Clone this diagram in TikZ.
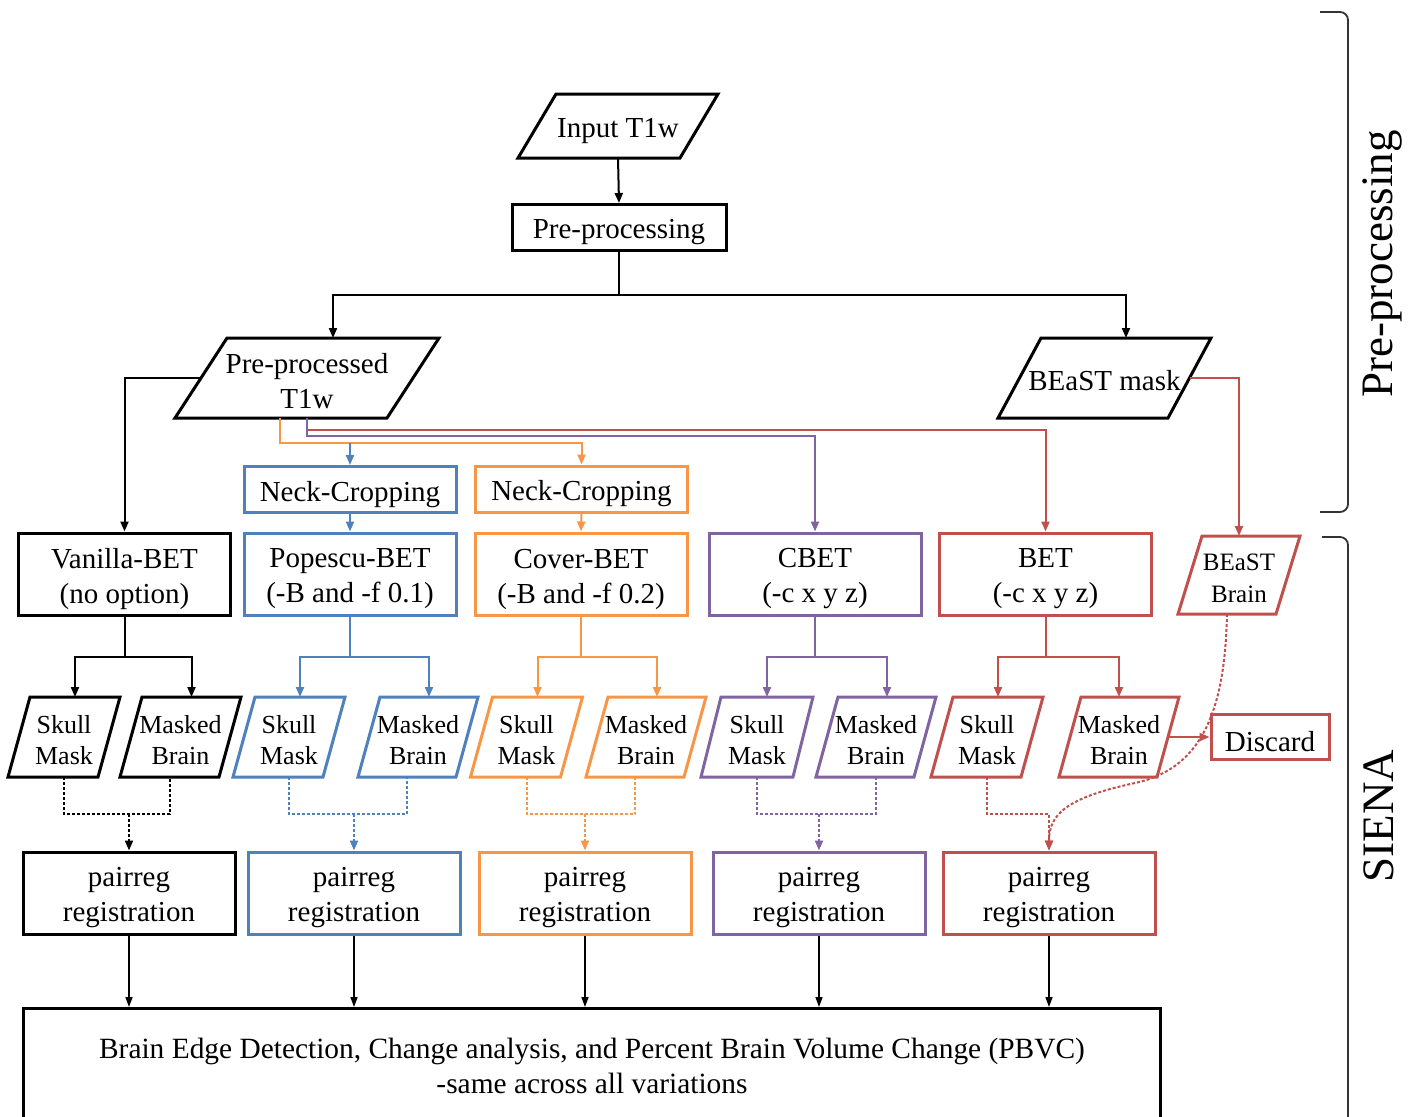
\documentclass[tikz,border=0pt]{standalone}
\usepackage{fontspec}
\setmainfont{Liberation Serif}
\usetikzlibrary{arrows.meta,calc}
\definecolor{cblue}{RGB}{79,129,189}
\definecolor{corange}{RGB}{247,150,70}
\definecolor{cpurple}{RGB}{128,100,162}
\definecolor{cred}{RGB}{192,80,77}
\tikzset{
 txt/.style={font=\fontsize{14.5}{17.5}\selectfont, align=center, inner sep=0pt},
 small/.style={font=\fontsize{13}{15.5}\selectfont},
 box/.style={draw=#1, line width=1.5pt, minimum width=106pt, minimum height=41pt, inner sep=0pt},
 conn/.style={draw=#1, line width=1pt, -{Triangle[length=5pt,width=4pt]}},
 plain/.style={draw=#1, line width=1pt},
 dotline/.style={draw=#1, line width=1pt, dash pattern=on 1.5pt off 1pt},
 dotarr/.style={dotline=#1, -{Triangle[length=5pt,width=4pt]}},
 thinarr/.style={draw=black, line width=0.75pt, -{Triangle[length=5pt,width=3.5pt]}},
}
% name, cx, cy, half width, half height, slant, colour, node options, text
\newcommand\pgram[9]{%
 \draw[#7, line width=1.5pt, line join=miter] ({#2-#4+#6},{#3-#5}) -- ({#2+#4+#6},{#3-#5}) -- ({#2+#4-#6},{#3+#5}) -- ({#2-#4-#6},{#3+#5}) -- cycle;
 \node[txt,#8] (#1) at (#2,{#3+3}) {#9};
 \coordinate (#1-t) at ({#2+#6},{#3-#5});
 \coordinate (#1-n) at (#2,{#3-#5});
 \coordinate (#1-b) at ({#2-#6},{#3+#5});
 \coordinate (#1-c) at (#2,{#3+#5});
 \coordinate (#1-l) at ({#2-#4},#3);
 \coordinate (#1-r) at ({#2+#4},#3);
}
% name, x, y, colour, extra options, text
\newcommand\bx[6]{%
 \node[box=#4,#5] (#1) at (#2,#3) {};
 \node[txt] (#1-txt) at ($(#1)+(0,5)$) {#6};
}
\begin{document}
\begin{tikzpicture}[x=0.5pt,y=-0.5pt]
\useasboundingbox (0,0) rectangle (1419,1116);
\clip (0,0) rectangle (1419,1116);
% top
\pgram{inp}{618}{126}{81}{32}{19}{black}{yshift=-1pt}{Input T1w}
\bx{pre}{619}{227.5}{black}{minimum width=107pt, minimum height=23pt}{Pre-processing}
\draw[conn=black] (inp-c) -- (pre.north);
\pgram{ppt}{307}{378}{106}{40}{26}{black}{}{Pre-processed\\T1w}
\pgram{bm}{1104.5}{378}{85}{40}{21.5}{black}{}{BEaST mask}
\draw[plain=black] (pre.south) -- ++(0,43) coordinate (pj);
\draw[conn=black] (pj) -| (ppt-t);
\draw[conn=black] (pj) -| (bm-t);
% second row boxes
\bx{bnc}{350}{489.5}{cblue}{minimum height=23pt}{Neck-Cropping}
\bx{onc}{581.5}{489}{corange}{minimum height=23pt}{Neck-Cropping}
\bx{vbet}{124.5}{574}{black}{}{Vanilla-BET\\(no option)}
\bx{pbet}{350}{574}{cblue}{}{Popescu-BET\\(-B and -f 0.1)}
\bx{obet}{581}{574}{corange}{}{Cover-BET\\(-B and -f 0.2)}
\bx{cbet}{815}{574}{cpurple}{}{CBET\\(-c x y z)}
\bx{bet}{1045.5}{574}{cred}{}{BET\\(-c x y z)}
\pgram{bb}{1239}{575}{49}{39}{12}{cred}{font=\fontsize{12.5}{16}\selectfont}{BEaST\\Brain}
% connectors from pre-processed
\draw[conn=black] (ppt-l) -| (vbet.north);
\draw[conn=cred] (ppt-c) -- ++(0,12) -| (bet.north);
\draw[conn=cpurple] (ppt-c) -- ++(0,18) -| (cbet.north);
\draw[conn=corange] ($(ppt-c)+(-27,0)$) -- ++(0,25) coordinate (oh) -| (onc.north);
\draw[conn=cblue] (bnc.north |- oh) -- (bnc.north);
\draw[conn=cblue] (bnc.south) -- (pbet.north);
\draw[conn=corange] (onc.south) -- (obet.north);
\draw[conn=cred] (bm-r) -| (bb-n);
% skull / masked
\pgram{ksk}{64}{737}{45}{40}{11}{black}{small}{Skull\\Mask}
\pgram{kmb}{180.5}{737}{49.5}{40}{11}{black}{small}{Masked\\Brain}
\pgram{bsk}{289}{737}{45}{40}{11}{cblue}{small}{Skull\\Mask}
\pgram{bmb}{418}{737}{49}{40}{11}{cblue}{small}{Masked\\Brain}
\pgram{osk}{526.5}{737}{45}{40}{11}{corange}{small}{Skull\\Mask}
\pgram{omb}{646}{737}{49}{40}{11}{corange}{small}{Masked\\Brain}
\pgram{psk}{757}{737}{46}{40}{10}{cpurple}{small}{Skull\\Mask}
\pgram{pmb}{876}{737}{49}{40}{11}{cpurple}{small}{Masked\\Brain}
\pgram{rsk}{987}{737}{45}{40}{11}{cred}{small}{Skull\\Mask}
\pgram{rmb}{1119}{737}{49}{40}{11}{cred}{small}{Masked\\Brain}
\bx{disc}{1270}{737}{cred}{minimum width=59pt, minimum height=22.5pt}{Discard}
% split connectors
\draw[plain=black] (vbet.south) -- ++(0,40) coordinate (kj);
\draw[conn=black] (kj) -| (ksk-t);
\draw[conn=black] (kj) -| (kmb-t);
\draw[plain=cblue] (pbet.south) -- ++(0,40) coordinate (bj);
\draw[conn=cblue] (bj) -| (bsk-t);
\draw[conn=cblue] (bj) -| (bmb-t);
\draw[plain=corange] (obet.south) -- ++(0,40) coordinate (oj);
\draw[conn=corange] (oj) -| (osk-t);
\draw[conn=corange] (oj) -| (omb-t);
\draw[plain=cpurple] (cbet.south) -- ++(0,40) coordinate (pj2);
\draw[conn=cpurple] (pj2) -| (psk-t);
\draw[conn=cpurple] (pj2) -| (pmb-t);
\draw[plain=cred] (bet.south) -- ++(0,40) coordinate (rj);
\draw[conn=cred] (rj) -| (rsk-t);
\draw[conn=cred] (rj) -| (rmb-n);
\draw[conn=cred] (rmb-r) -- (disc.west);
% pairreg
\bx{kpr}{129}{893}{black}{}{pairreg\\registration}
\bx{bpr}{354}{893}{cblue}{}{pairreg\\registration}
\bx{opr}{585}{893}{corange}{}{pairreg\\registration}
\bx{ppr}{819}{893}{cpurple}{}{pairreg\\registration}
\bx{rpr}{1049}{893}{cred}{}{pairreg\\registration}
% dotted merges
\draw[dotline=black] (ksk-c) -- ++(0,37) coordinate (kh) -| (kmb-b);
\draw[dotarr=black] (kpr.north |- kh) -- (kpr.north);
\draw[dotline=cblue] (bsk-c) -- ++(0,37) coordinate (bh) -| (bmb-b);
\draw[dotarr=cblue] (bpr.north |- bh) -- (bpr.north);
\draw[dotline=corange] (osk-c) -- ++(0,37) coordinate (oh2) -| (omb-b);
\draw[dotarr=corange] (opr.north |- oh2) -- (opr.north);
\draw[dotline=cpurple] (psk-c) -- ++(0,37) coordinate (ph) -| (pmb-c);
\draw[dotarr=cpurple] (ppr.north |- ph) -- (ppr.north);
\draw[dotarr=cred] (rsk-c) -- ++(0,37) -| (rpr.north);
\draw[dotarr=cred] (bb-b) .. controls (1225,705) and (1205,768) .. (1135,783) .. controls (1065,798) and (1049,815) .. (rpr.north);
% bottom box
\node[draw=black, line width=1.5pt, minimum width=568.5pt, minimum height=80pt, anchor=north west, inner sep=0pt] (big) at (22,1007) {};
\node[txt, font=\fontsize{14.7}{17.5}\selectfont] (bigtxt) at (592,1065.5) {Brain Edge Detection, Change analysis, and Percent Brain Volume Change (PBVC)\\-same across all variations};
\foreach \n in {kpr,bpr,opr,ppr,rpr}{\draw[thinarr] (\n.south) -- (\n.south |- big.north);}
% side brackets
\draw[line width=0.9pt, black!80, rounded corners=4pt] (1320,12) -- (1348,12) -- (1348,512) -- (1320,512);
\draw[line width=0.9pt, black!80, rounded corners=4pt] (1322,537) -- (1348,537) -- (1348,1150);
\node[rotate=90, inner sep=0pt, font=\fontsize{22.5}{27}\selectfont] (lpre) at (1382,264) {Pre-processing};
\node[rotate=90, inner sep=0pt, font=\fontsize{22.5}{27}\selectfont] (lsiena) at (1379,816) {SIENA};
\end{tikzpicture}
\end{document}
